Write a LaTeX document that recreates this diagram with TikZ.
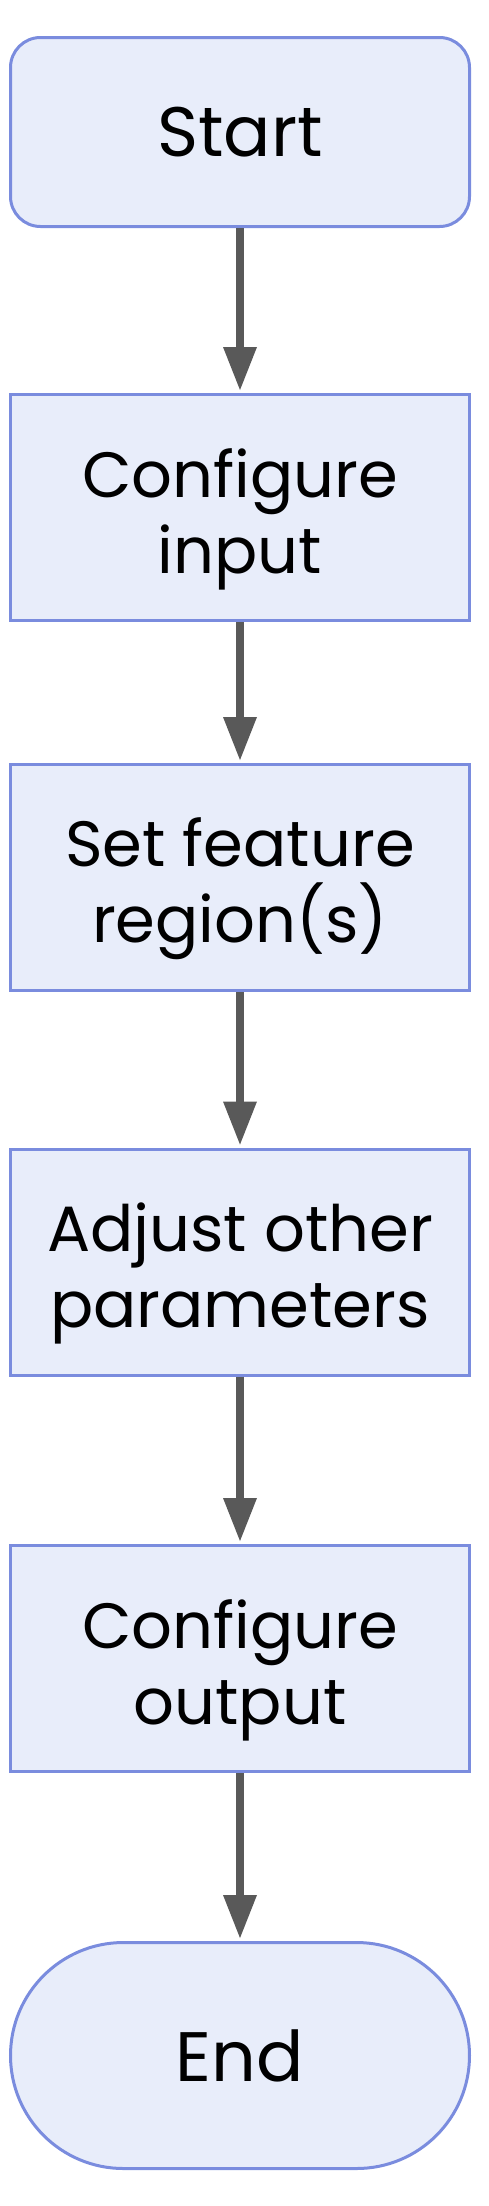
\documentclass[tikz,border=0pt]{standalone}
\usepackage{fontspec}
\setmainfont{Poppins}
\usetikzlibrary{arrows.meta,shapes.misc}
\definecolor{boxfill}{HTML}{E8EDFA}
\definecolor{boxline}{HTML}{7A8CDE}
\definecolor{arrowgray}{HTML}{595959}
\newcommand{\topstrut}{\rule{0pt}{72pt}}
\begin{document}
\begin{tikzpicture}[x=1pt,y=-1pt,
  base/.style={draw=boxline,fill=boxfill,line width=3pt,align=center,
    minimum width=459pt,minimum height=226pt,inner sep=0pt,
    font=\fontsize{64}{76}\selectfont},
  stepbox/.style={base,rectangle},
  startbox/.style={base,rectangle,rounded corners=30pt,minimum height=189pt,
    font=\fontsize{70}{76}\selectfont},
  endbox/.style={base,rounded rectangle,font=\fontsize{70}{76}\selectfont},
  flow/.style={draw=arrowgray,line width=8pt,shorten >=3pt,
    -{Triangle[length=43pt 0 0,width=34pt 0 0,line width=0pt]}}]
\useasboundingbox (0,0) rectangle (488,2206);
\node[startbox] (start) at (240,132) {Start};
\node[stepbox] (cin) at (240,507.5) {\topstrut Configure\\input};
\node[stepbox] (feat) at (240,877.5) {\topstrut Set feature\\region(s)};
\node[stepbox] (adj) at (240,1262) {\topstrut Adjust other\\parameters};
\node[stepbox] (cout) at (240,1658.5) {\topstrut Configure\\output};
\node[endbox] (end) at (240,2055.5) {End};
\draw[flow] (start) -- (cin);
\draw[flow] (cin) -- (feat);
\draw[flow] (feat) -- (adj);
\draw[flow] (adj) -- (cout);
\draw[flow] (cout) -- (end);
\end{tikzpicture}
\end{document}
